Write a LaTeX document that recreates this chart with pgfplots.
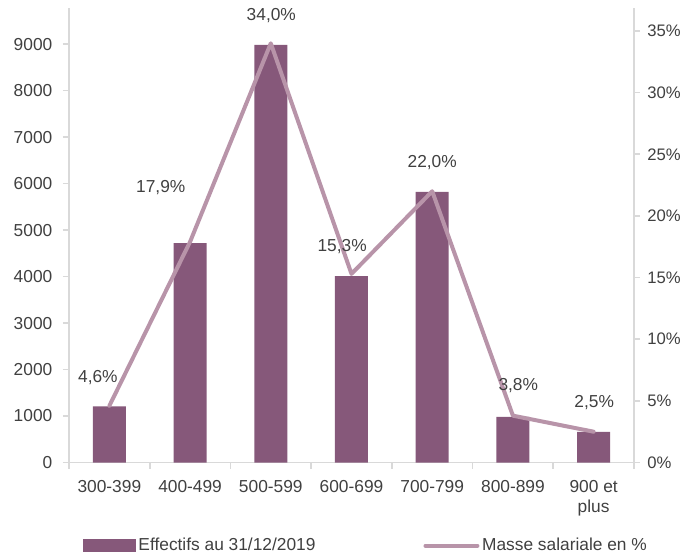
\documentclass[border=0pt]{standalone}
\usepackage{pgfplots}
\pgfplotsset{compat=1.18}
\usepackage{fontspec}
\setmainfont{Liberation Sans}
\definecolor{barcol}{HTML}{86587A}
\definecolor{linecol}{HTML}{B894A9}
\definecolor{axcol}{HTML}{D9D9D9}
\definecolor{txt}{HTML}{404040}
\begin{document}
\begin{tikzpicture}
\useasboundingbox (-51.75pt,-69.4pt) rectangle (462pt,346.9pt);
\pgfplotsset{
  base/.style={
    scale only axis, width=423.75pt, height=340.875pt,
    at={(0pt,0pt)}, anchor=south west,
    xmin=-0.5, xmax=6.5, ymin=0,
    /pgf/number format/assume math mode=true,
    tick label style={font=\fontsize{13}{15}\selectfont, text=txt},
    axis line style={axcol, line width=1.2pt},
    tick style={axcol, line width=1.2pt},
    tick align=outside, major tick length=4.5pt, minor tick length=4.5pt,
  }
}
\begin{axis}[base, ymax=9775,
  axis y line*=left, axis x line*=bottom,
  ytick={0,1000,...,9000}, scaled y ticks=false,
  yticklabel style={/pgf/number format/1000 sep={}, xshift=-4.5pt},
  xtick={0,...,6},
  xticklabels={300-399,400-499,500-599,600-699,700-799,800-899,{900 et\\plus}},
  xticklabel style={align=center, yshift=-5pt},
  major x tick style={draw=none},
  minor xtick={-0.5,0.5,...,6.5},
]
\addplot[ybar, bar width=24.75pt, fill=barcol, draw=none]
  coordinates {(0,1210) (1,4720) (2,8980) (3,4010) (4,5820) (5,980) (6,660)};
\end{axis}
\begin{axis}[base, ymax=36.86,
  axis y line*=right, axis x line=none,
  ytick={0,5,...,35},
  yticklabel={\pgfmathprintnumber{\tick}\%},
  yticklabel style={xshift=2pt, font=\fontsize{12.5}{15}\selectfont},
  legend columns=2,
  legend cell align=left,
  legend style={at={(0.0248,-0.183)}, anchor=west, draw=none, fill=none,
    font=\fontsize{13}{15}\selectfont, text=txt, inner sep=0pt,
    /tikz/every even column/.append style={column sep=79pt}},
]
\addlegendimage{legend image code/.code={\fill[barcol] (0pt,-4.5pt) rectangle (39pt,4.5pt);}}
\addlegendentry{Effectifs au 31/12/2019}
\addplot[linecol, line width=3pt, line cap=round, line join=round, mark=none,
  legend image code/.code={\draw[linecol, line width=3pt, line cap=round] (0pt,0pt) -- (39pt,0pt);},
  nodes near coords={\pgfmathprintnumber[fixed,fixed zerofill,precision=1,use comma]{\pgfplotspointmeta}\%},
  visualization depends on={\thisrow{dx} \as \dx},
  visualization depends on={\thisrow{dy} \as \dy},
  every node near coord/.append style={anchor=center, xshift=\dx pt, yshift=\dy pt,
    font=\fontsize{13}{15}\selectfont, text=txt},
] table[x=x, y=y, meta=y] {
x y dx dy
0 4.6 -8.6 21
1 17.9 -22 40.5
2 34.0 0.4 20.5
3 15.3 -7 20.6
4 22.0 0 21.7
5 3.8 4 22.5
6 2.5 0.4 21.7
};
\addlegendentry{Masse salariale en \%}
\end{axis}
\end{tikzpicture}
\end{document}
